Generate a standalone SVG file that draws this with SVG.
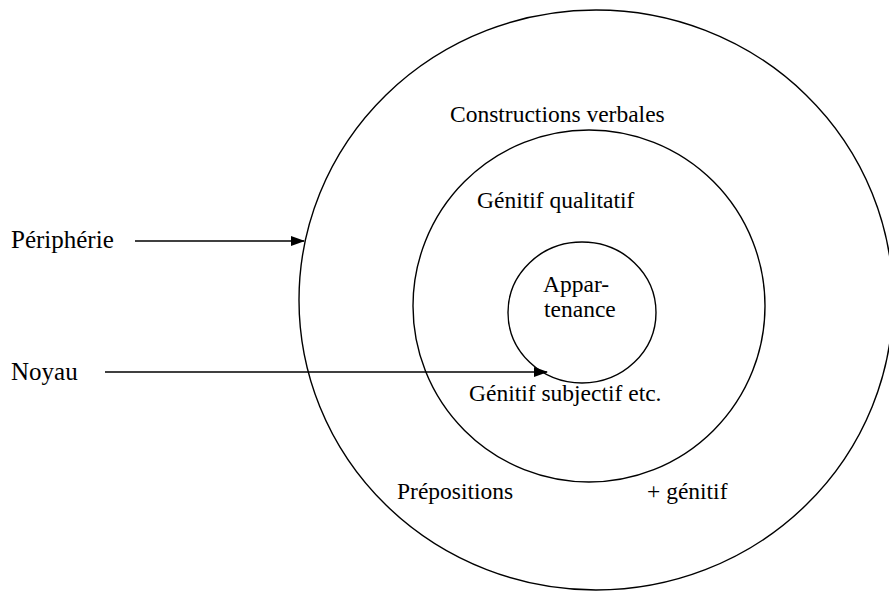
<svg xmlns="http://www.w3.org/2000/svg" width="889" height="591" viewBox="0 0 889 591">
<style>
.ring{fill:none;stroke:#000;stroke-width:1.4}
.conn{stroke:#000;stroke-width:1.4;fill:none}
text{font-family:"Liberation Serif","Times New Roman",serif;font-size:23.5px;fill:#000}
.side{font-size:25px}
</style>
<defs>
<marker id="arr" markerWidth="14" markerHeight="10" refX="13" refY="5" orient="auto" markerUnits="userSpaceOnUse">
<path d="M0,0 L14,5 L0,10 Z" fill="#000"/>
</marker>
</defs>
<rect width="889" height="591" fill="#fff"/>
<g id="outer">
<ellipse class="ring" cx="596" cy="300" rx="297" ry="290"/>
<text x="450" y="122">Constructions verbales</text>
<text x="397" y="499">Prépositions</text>
<text x="647" y="499">+ génitif</text>
</g>
<g id="middle">
<circle class="ring" cx="589" cy="306" r="176"/>
<text x="477" y="208">Génitif qualitatif</text>
<text x="469" y="401">Génitif subjectif etc.</text>
</g>
<g id="inner">
<ellipse class="ring" cx="582" cy="312.5" rx="74" ry="70.5"/>
<text x="543" y="292">Appar-</text>
<text x="544" y="317">tenance</text>
</g>
<g id="label-peripherie"><text class="side" x="11" y="248">Périphérie</text></g>
<g id="label-noyau"><text class="side" x="11" y="380">Noyau</text></g>
<g id="connectors">
<line class="conn" x1="135" y1="241" x2="304" y2="241" marker-end="url(#arr)"/>
<line class="conn" x1="105" y1="372" x2="547" y2="372" marker-end="url(#arr)"/>
</g>
</svg>
